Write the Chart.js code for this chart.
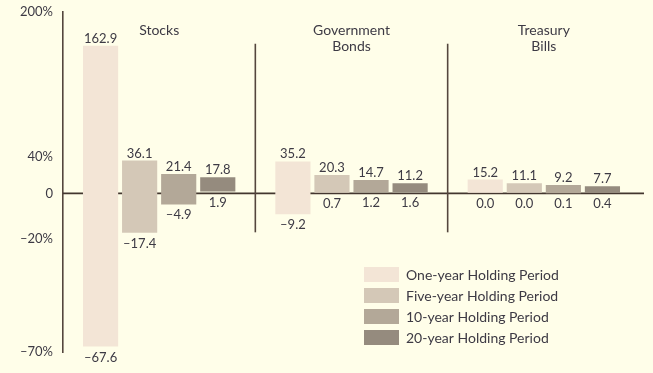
<!DOCTYPE html>
<html>
<head>
<meta charset="utf-8">
<script src="https://cdn.jsdelivr.net/npm/chart.js@4.4.1/dist/chart.umd.min.js"></script>
<style>
  html, body { margin: 0; padding: 0; background: #fffee9; }
  #wrap { width: 653px; height: 373px; position: relative; }
</style>
</head>
<body>
<div id="wrap"><canvas id="returns-chart"></canvas></div>
<script>
// Range of annual returns (low / high) by asset class and holding period
const categories = ['Stocks', ['Government', 'Bonds'], ['Treasury', 'Bills']];
const periods = [
  'One-year Holding Period',
  'Five-year Holding Period',
  '10-year Holding Period',
  '20-year Holding Period',
];

const oneYearHigh = [162.9, 35.2, 15.2];
const oneYearLow = [-67.6, -9.2, 0.0];
const fiveYearHigh = [36.1, 20.3, 11.1];
const fiveYearLow = [-17.4, 0.7, 0.0];
const tenYearHigh = [21.4, 14.7, 9.2];
const tenYearLow = [-4.9, 1.2, 0.1];
const twentyYearHigh = [17.8, 11.2, 7.7];
const twentyYearLow = [1.9, 1.6, 0.4];

const yTickValues = [-70, -20, 0, 40, 200];
const yTickLabels = ['–70%', '–20%', '0', '40%', '200%'];

const colors = ['#f3e5d6', '#d4c8b7', '#b3a898', '#958b7e'];
const inkColor = '#3d3a44';
const axisColor = '#54463d';
const zeroColor = '#43362f';
const fontFamily = 'Lato, "Open Sans", sans-serif';

// y scale that stretches the negative side, so losses get more room than gains
class SplitScale extends Chart.LinearScale {
  static id = 'split';
  static defaults = {};

  buildTicks() {
    return yTickValues.map((v) => ({ value: v }));
  }

  _stretch() {
    return this.options.negativeStretch || 1;
  }

  getPixelForValue(value) {
    const k = this._stretch();
    const lo = this.min * k;
    const t = value < 0 ? value * k : value;
    return this.getPixelForDecimal((t - lo) / (this.max - lo));
  }

  getValueForPixel(pixel) {
    const k = this._stretch();
    const lo = this.min * k;
    const t = lo + this.getDecimalForPixel(pixel) * (this.max - lo);
    return t < 0 ? t / k : t;
  }
}
Chart.register(SplitScale);

function fmt(v) {
  return v.toFixed(1).replace('-', '–');
}

function pairs(lows, highs) {
  return lows.map((lo, i) => [lo, highs[i]]);
}

const seriesData = [
  pairs(oneYearLow, oneYearHigh),
  pairs(fiveYearLow, fiveYearHigh),
  pairs(tenYearLow, tenYearHigh),
  pairs(twentyYearLow, twentyYearHigh),
];

// zero line + group separators, drawn under the bars
const framePlugin = {
  id: 'frame',
  beforeDatasetsDraw(chart) {
    const { ctx, chartArea, scales } = chart;
    const x = scales.x;
    const y = scales.y;
    ctx.save();
    ctx.lineWidth = 1.6;

    const y0 = y.getPixelForValue(0);
    ctx.strokeStyle = zeroColor;
    ctx.beginPath();
    ctx.moveTo(chartArea.left, y0);
    ctx.lineTo(chartArea.right + 4, y0);
    ctx.stroke();

    ctx.strokeStyle = axisColor;
    const top = y.getPixelForValue(165);
    const bottom = y.getPixelForValue(-17.2);
    for (let i = 1; i < categories.length; i++) {
      const sx = (x.getPixelForValue(i - 1) + x.getPixelForValue(i)) / 2;
      ctx.beginPath();
      ctx.moveTo(sx, top);
      ctx.lineTo(sx, bottom);
      ctx.stroke();
    }
    ctx.restore();
  },
};

// value labels, category headings and legend
const labelPlugin = {
  id: 'labels',
  afterDatasetsDraw(chart) {
    const { ctx, scales } = chart;
    ctx.save();
    ctx.fillStyle = inkColor;
    ctx.textAlign = 'center';
    ctx.textBaseline = 'alphabetic';

    ctx.font = '13px ' + fontFamily;
    chart.data.datasets.forEach((ds, di) => {
      const meta = chart.getDatasetMeta(di);
      meta.data.forEach((bar, i) => {
        const [lo, hi] = ds.data[i];
        const top = Math.min(bar.y, bar.base);
        const bottom = Math.max(bar.y, bar.base);
        ctx.fillText(fmt(hi), bar.x, top - 3);
        ctx.fillText(fmt(lo), bar.x, bottom + 15);
      });
    });

    ctx.font = '14px ' + fontFamily;
    categories.forEach((cat, i) => {
      const lines = Array.isArray(cat) ? cat : [cat];
      const cx = scales.x.getPixelForValue(i);
      lines.forEach((line, li) => {
        ctx.fillText(line, cx, 35 + li * 16);
      });
    });

    // legend, bottom right
    const lx = 364;
    const ly = 267;
    ctx.textAlign = 'left';
    ctx.textBaseline = 'middle';
    chart.data.datasets.forEach((ds, di) => {
      const rowY = ly + di * 21;
      ctx.fillStyle = ds.backgroundColor;
      ctx.fillRect(lx, rowY, 35, 15);
      ctx.fillStyle = inkColor;
      ctx.fillText(ds.label, lx + 42, rowY + 8);
    });
    ctx.restore();
  },
};

const ctx = document.getElementById('returns-chart').getContext('2d');
new Chart(ctx, {
  type: 'bar',
  data: {
    labels: categories,
    datasets: periods.map((p, i) => ({
      label: p,
      data: seriesData[i],
      backgroundColor: colors[i],
      borderWidth: 0,
      categoryPercentage: 0.8125,
      barPercentage: 0.9,
    })),
  },
  options: {
    responsive: true,
    maintainAspectRatio: false,
    animation: false,
    layout: {
      padding: { left: 0, top: 12, right: 13, bottom: 21 },
    },
    plugins: {
      legend: { display: false },
      tooltip: { enabled: false },
    },
    scales: {
      x: {
        display: false,
      },
      y: {
        type: 'split',
        min: -70,
        max: 200,
        negativeStretch: 2.5,
        afterFit: (scale) => {
          scale.width = 63;
          scale.paddingTop = 0;
          scale.paddingBottom = 0;
        },
        grid: { drawOnChartArea: false, drawTicks: false },
        border: { display: true, color: axisColor, width: 1.6 },
        ticks: {
          padding: 10,
          color: inkColor,
          font: { family: fontFamily, size: 13 },
          callback: (value) => yTickLabels[yTickValues.indexOf(value)],
        },
      },
    },
  },
  plugins: [framePlugin, labelPlugin],
});
</script>
</body>
</html>
